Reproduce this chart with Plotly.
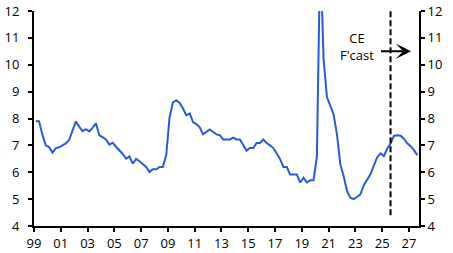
import plotly.graph_objects as go

# Quarterly series (mid-quarter positions), 1999Q1 .. 2027Q3
start_year = 1999
values = [
    7.90, 7.90, 7.40, 7.00,   # 1999
    6.94, 6.73, 6.90, 6.93,   # 2000
    7.00, 7.07, 7.20, 7.57,   # 2001
    7.89, 7.70, 7.53, 7.60,   # 2002
    7.52, 7.65, 7.82, 7.38,   # 2003
    7.30, 7.22, 7.03, 7.10,   # 2004
    6.95, 6.82, 6.68, 6.51,   # 2005
    6.59, 6.32, 6.50, 6.41,   # 2006
    6.30, 6.20, 6.01, 6.11,   # 2007
    6.11, 6.20, 6.20, 6.65,   # 2008
    8.05, 8.60, 8.68, 8.58,   # 2009
    8.37, 8.12, 8.19, 7.87,   # 2010
    7.79, 7.67, 7.41, 7.50,   # 2011
    7.59, 7.50, 7.41, 7.38,   # 2012
    7.22, 7.22, 7.22, 7.29,   # 2013
    7.22, 7.22, 7.00, 6.80,   # 2014
    6.90, 6.90, 7.09, 7.09,   # 2015
    7.22, 7.09, 7.00, 6.90,   # 2016
    6.70, 6.49, 6.20, 6.20,   # 2017
    5.92, 5.92, 5.92, 5.62,   # 2018
    5.80, 5.62, 5.70, 5.70,   # 2019
    6.57, 14.30, 10.20, 8.80, # 2020
    8.45, 8.15, 7.40, 6.30,   # 2021
    5.85, 5.30, 5.05, 5.00,   # 2022
    5.08, 5.18, 5.52, 5.70,   # 2023
    5.92, 6.25, 6.55, 6.70,   # 2024
    6.60, 6.88, 7.07, 7.35,   # 2025
    7.38, 7.36, 7.25, 7.08,   # 2026
    6.97, 6.82, 6.63,         # 2027
]
dates = [start_year + 0.125 + 0.25 * i for i in range(len(values))]

x_tick_vals = list(range(1999, 2028, 2))
x_tick_text = ["99", "01", "03", "05", "07", "09", "11", "13",
               "15", "17", "19", "21", "23", "25", "27"]
y_tick_vals = [4, 5, 6, 7, 8, 9, 10, 11, 12]

forecast_start = 2025.625
annotation_text = "CE<br>F'cast"

line_color = "#2a5bd7"
font = dict(family="Open Sans", size=13, color="black")

fig = go.Figure()
fig.add_trace(go.Scatter(x=dates, y=values, mode="lines",
                         line=dict(color=line_color, width=2),
                         hoverinfo="skip", showlegend=False))
fig.add_trace(go.Scatter(x=dates, y=values, mode="lines", yaxis="y2",
                         line=dict(color="rgba(0,0,0,0)", width=0),
                         hoverinfo="skip", showlegend=False))

fig.add_shape(type="line", xref="x", yref="y",
              x0=forecast_start, x1=forecast_start, y0=4.4, y1=12,
              line=dict(color="black", width=2, dash="6px,3px"))

fig.add_annotation(x=2023.1, y=10.68, xref="x", yref="y",
                   text=annotation_text, showarrow=False,
                   xanchor="center", yanchor="middle", align="center",
                   font=font)
fig.add_annotation(x=2027.16, y=10.5, ax=2024.8, ay=10.5,
                   xref="x", yref="y", axref="x", ayref="y",
                   text="", showarrow=True, arrowhead=3, arrowsize=1.3,
                   arrowwidth=2, arrowcolor="black", standoff=0)

axis_common = dict(showgrid=False, zeroline=False, showline=True,
                   linecolor="black", linewidth=2, ticks="outside",
                   ticklen=4, tickwidth=2, tickcolor="black",
                   tickfont=font, automargin=False)

fig.update_layout(
    width=453, height=253,
    margin=dict(l=34, r=34, t=11, b=27),
    paper_bgcolor="white", plot_bgcolor="white",
    showlegend=False,
    xaxis=dict(range=[1999, 2027.75], tickvals=x_tick_vals,
               ticktext=x_tick_text, **axis_common),
    yaxis=dict(range=[4, 12], tickvals=y_tick_vals, ticklabelstandoff=6,
               **axis_common),
    yaxis2=dict(range=[4, 12], tickvals=y_tick_vals, overlaying="y",
                side="right", **axis_common),
)

fig.write_html("out.html")
